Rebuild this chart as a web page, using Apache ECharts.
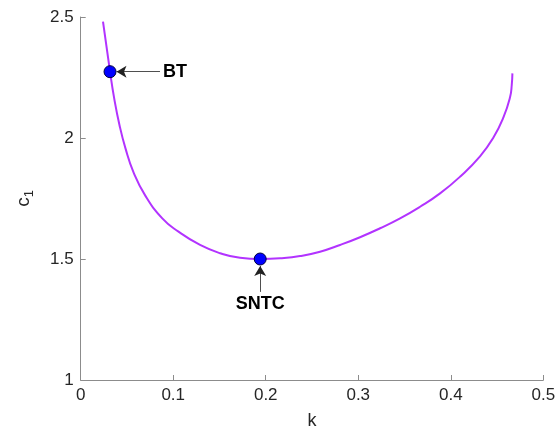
<!DOCTYPE html>
<html>
<head>
<meta charset="utf-8">
<script src="https://cdn.jsdelivr.net/npm/echarts@6/dist/echarts.min.js"></script>
<style>
  html, body { margin: 0; padding: 0; background: #fff; }
  #chart { width: 555px; height: 430px; }
</style>
</head>
<body>
<div id="chart"></div>
<script>
// Branch of c1 versus k
const kValues = [0.0241, 0.0317, 0.0362, 0.0419, 0.0484, 0.0569, 0.0695, 0.0882, 0.1057, 0.1290, 0.1506, 0.1722, 0.1940, 0.2155, 0.2371, 0.2587, 0.2803, 0.3019, 0.3236, 0.3452, 0.3668, 0.3884, 0.4100, 0.4316, 0.4461, 0.4569, 0.4641, 0.4659, 0.4666];
const c1Values = [2.481, 2.274, 2.164, 2.054, 1.957, 1.860, 1.764, 1.668, 1.613, 1.558, 1.524, 1.505, 1.500, 1.503, 1.512, 1.530, 1.558, 1.590, 1.627, 1.668, 1.716, 1.771, 1.840, 1.924, 2.002, 2.085, 2.169, 2.219, 2.267];

// Special points on the branch
const pointNames = ['BT', 'SNTC'];
const pointK = [0.0317, 0.194];
const pointC1 = [2.274, 1.500];

// Annotation arrows: tail (label side) and head (near the point)
const arrowTails = [[0.0857, 2.274], [0.194, 1.364]];
const arrowHeads = [[0.0387, 2.274], [0.194, 1.471]];

const xTicks = [0, 0.1, 0.2, 0.3, 0.4, 0.5];
const yTicks = [1, 1.5, 2, 2.5];

const curve = kValues.map((k, i) => [k, c1Values[i]]);
const points = pointK.map((k, i) => [k, pointC1[i]]);

const axisColor = '#8c8c8c';
const textColor = '#262626';
const font = 'Liberation Sans, Arial, Helvetica, sans-serif';

const chart = echarts.init(document.getElementById('chart'), null, { renderer: 'canvas' });
chart.setOption({
  animation: false,
  backgroundColor: '#ffffff',
  grid: { left: 80.7, right: 11.7, top: 17, bottom: 50, containLabel: false, outerBoundsMode: 'none' },
  xAxis: {
    type: 'value',
    min: xTicks[0], max: xTicks[xTicks.length - 1], interval: 0.1,
    name: 'k', nameLocation: 'middle', nameGap: 32,
    nameTextStyle: { fontSize: 18, color: textColor, fontFamily: font },
    axisLine: { lineStyle: { color: axisColor, width: 1 } },
    axisTick: { inside: true, length: 5, lineStyle: { color: axisColor } },
    axisLabel: { fontSize: 17, color: textColor, fontFamily: font, margin: 7,
      formatter: v => String(v) },
    splitLine: { show: false }
  },
  yAxis: {
    type: 'value',
    min: yTicks[0], max: yTicks[yTicks.length - 1], interval: 0.5,
    name: '{c|c}{s|1}', nameLocation: 'middle', nameGap: 45, nameRotate: 90,
    nameTextStyle: {
      color: textColor, fontFamily: font,
      rich: {
        c: { fontSize: 19, color: textColor, fontFamily: font },
        s: { fontSize: 13, color: textColor, fontFamily: font, padding: [11, 0, 0, 0] }
      }
    },
    axisLine: { lineStyle: { color: axisColor, width: 1 } },
    axisTick: { inside: true, length: 5, lineStyle: { color: axisColor } },
    axisLabel: { fontSize: 17, color: textColor, fontFamily: font, margin: 7,
      formatter: v => String(v) },
    splitLine: { show: false }
  },
  series: [
    {
      type: 'line',
      data: curve,
      smooth: 0.5,
      showSymbol: false,
      lineStyle: { color: '#b233ff', width: 2 },
      z: 2,
      markLine: {
        silent: true,
        symbol: ['none', 'arrow'],
        symbolSize: [9, 10],
        lineStyle: { color: '#222222', width: 0.8, type: 'solid' },
        label: {
          show: true, position: 'start', color: '#000', fontWeight: 'bold',
          fontSize: 18, fontFamily: font, distance: 3,
          formatter: p => p.name
        },
        data: pointNames.map((n, i) => [
          { coord: arrowTails[i], name: n },
          { coord: arrowHeads[i] }
        ])
      }
    },
    {
      type: 'scatter',
      data: points,
      symbol: 'circle',
      symbolSize: 12,
      itemStyle: { color: '#0000ff', opacity: 1, borderColor: '#000040', borderWidth: 1 },
      z: 3
    }
  ]
});
</script>
</body>
</html>
